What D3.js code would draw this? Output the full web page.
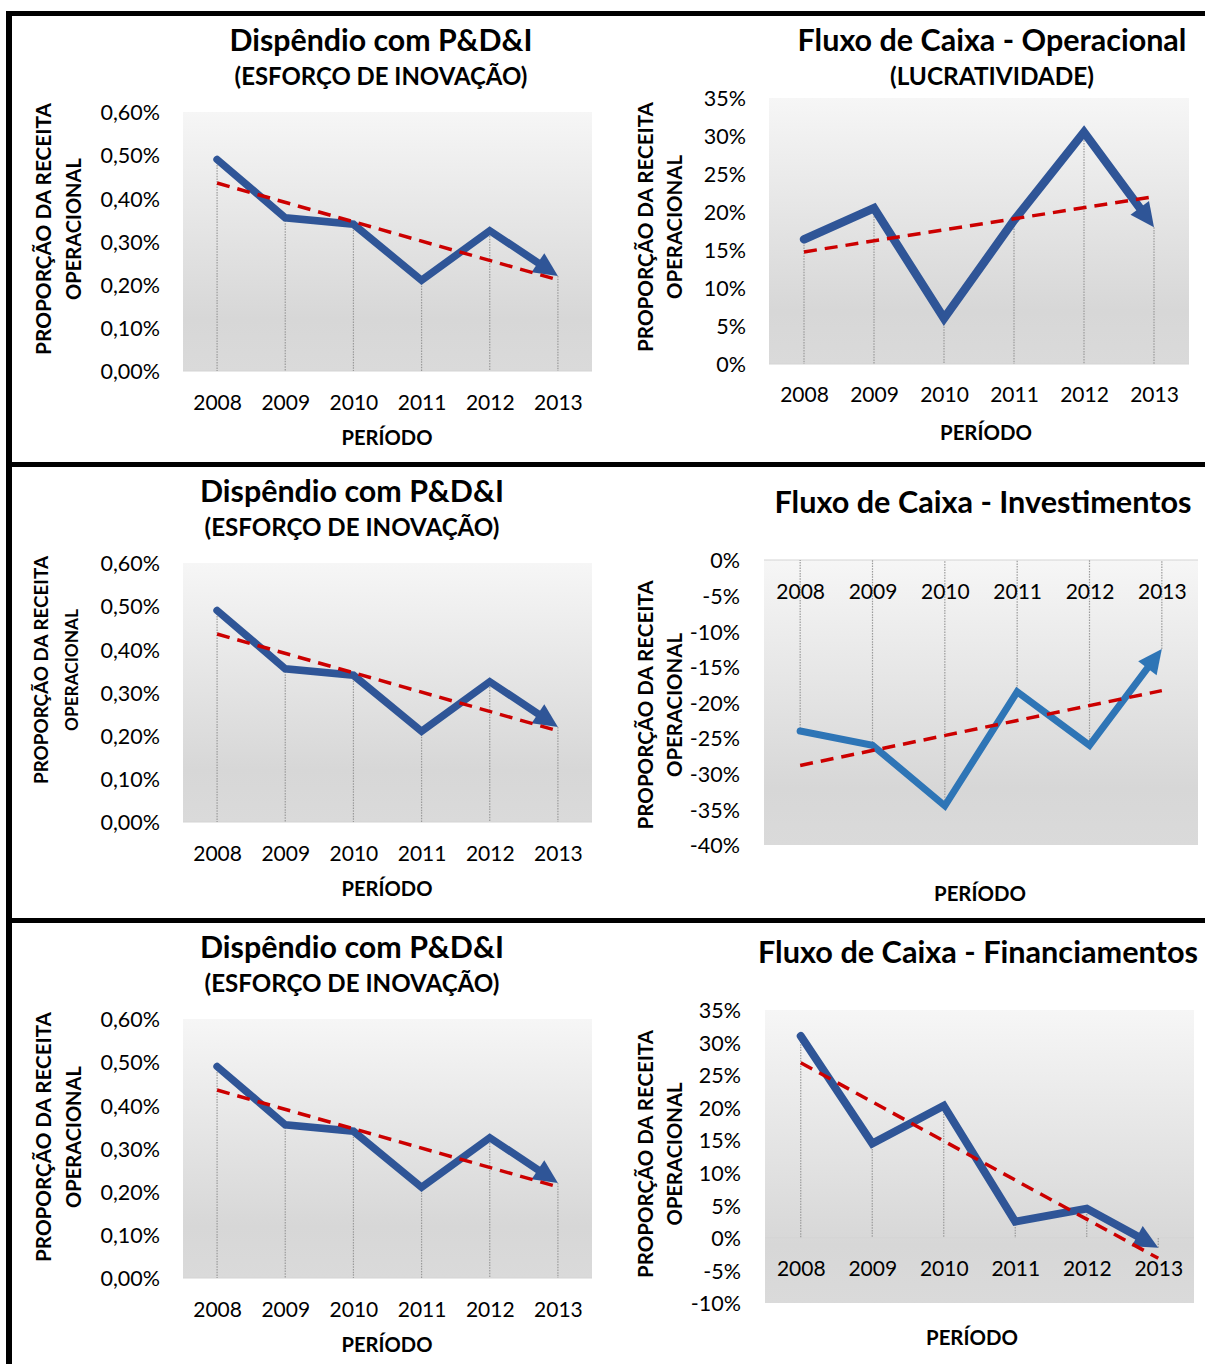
<!DOCTYPE html>
<html>
<head>
<meta charset="utf-8">
<script src="https://cdn.jsdelivr.net/npm/d3@7"></script>
<style>
  html, body { margin: 0; padding: 0; background: #fff; }
  svg { display: block; }
</style>
</head>
<body>
<svg id="chart" width="1205" height="1364"></svg>
<script>
// ---- Dados (proporção da receita operacional, em %) ----
const years = ["2008", "2009", "2010", "2011", "2012", "2013"];

const pdiValues            = [0.49, 0.355, 0.34, 0.21, 0.325, 0.22];
const operacionalValues    = [16.4, 20.5, 6.0, 18.9, 30.5, 18.0];
const investimentosValues  = [-24.0, -26.0, -34.5, -18.5, -26.0, -12.5];
const financiamentosValues = [31.0, 14.5, 20.3, 2.5, 4.5, -1.5];

const pdiTicks            = [0, 0.1, 0.2, 0.3, 0.4, 0.5, 0.6];
const operacionalTicks    = [0, 5, 10, 15, 20, 25, 30, 35];
const investimentosTicks  = [-40, -35, -30, -25, -20, -15, -10, -5, 0];
const financiamentosTicks = [-10, -5, 0, 5, 10, 15, 20, 25, 30, 35];

const titlePdi            = "Dispêndio com P&D&I";
const subtitlePdi         = "(ESFORÇO DE INOVAÇÃO)";
const titleOperacional    = "Fluxo de Caixa - Operacional";
const subtitleOperacional = "(LUCRATIVIDADE)";
const titleInvestimentos  = "Fluxo de Caixa - Investimentos";
const titleFinanciamentos = "Fluxo de Caixa - Financiamentos";
const yTitleLines         = ["PROPORÇÃO DA RECEITA", "OPERACIONAL"];
const xTitle              = "PERÍODO";

// ---- Formatação pt-BR ----
const ptBR = d3.formatLocale({ decimal: ",", thousands: ".", grouping: [3], currency: ["R$", ""], minus: "-" });
const fmt2 = v => ptBR.format(".2f")(v) + "%";
const fmt0 = v => ptBR.format(".0f")(v) + "%";

// ---- Estilo ----
const FONT = "Lato, 'Open Sans', 'DejaVu Sans', sans-serif";
const DARK_BLUE = "#2f5597";
const MID_BLUE = "#2e75b6";
const TREND_RED = "#cc0000";

const svg = d3.select("#chart");
svg.append("rect").attr("width", 1205).attr("height", 1364).attr("fill", "#fff");

const defs = svg.append("defs");
const grad = defs.append("linearGradient").attr("id", "plotBg")
  .attr("x1", 0).attr("y1", 0).attr("x2", 0).attr("y2", 1);
grad.append("stop").attr("offset", "0%").attr("stop-color", "#f6f6f6");
grad.append("stop").attr("offset", "80%").attr("stop-color", "#d7d7d7");
grad.append("stop").attr("offset", "100%").attr("stop-color", "#dadada");

// Ajusta o tamanho da fonte para o texto ocupar a largura indicada
function fitWidth(sel, target) {
  const w = sel.node().getComputedTextLength();
  const fs = parseFloat(sel.attr("font-size"));
  if (w > 0) sel.attr("font-size", (fs * target / w).toFixed(2));
  return sel;
}

// Layout de cada gráfico
const panels = [
  { title: titlePdi, subtitle: subtitlePdi, values: pdiValues, ticks: pdiTicks, fmt: fmt2,
    color: DARK_BLUE, lineW: 7.5,
    titleX: 381, titleY: 51, titleW: 303, subY: 85, subW: 293,
    plot: { x0: 183, x1: 592, y0: 112, y1: 371 }, tickRight: 160,
    yearY: 410, xt: { x: 387, y: 445, w: 91 },
    yt: { x1: 51, x2: 81, cy: 229, w1: 252, w2: 142 } },
  { title: titlePdi, subtitle: subtitlePdi, values: pdiValues, ticks: pdiTicks, fmt: fmt2,
    color: DARK_BLUE, lineW: 7.5,
    titleX: 352, titleY: 502, titleW: 304, subY: 536, subW: 295,
    plot: { x0: 183, x1: 592, y0: 563, y1: 822 }, tickRight: 160,
    yearY: 861, xt: { x: 387, y: 896, w: 91 },
    yt: { x1: 48, x2: 78, cy: 670, w1: 228, w2: 122 } },
  { title: titlePdi, subtitle: subtitlePdi, values: pdiValues, ticks: pdiTicks, fmt: fmt2,
    color: DARK_BLUE, lineW: 7.5,
    titleX: 352, titleY: 958, titleW: 304, subY: 992, subW: 295,
    plot: { x0: 183, x1: 592, y0: 1019, y1: 1278 }, tickRight: 160,
    yearY: 1317, xt: { x: 387, y: 1352, w: 91 },
    yt: { x1: 51, x2: 81, cy: 1137, w1: 250, w2: 142 } },
  { title: titleOperacional, subtitle: subtitleOperacional, values: operacionalValues,
    ticks: operacionalTicks, fmt: fmt0, color: DARK_BLUE, lineW: 8.5,
    titleX: 992, titleY: 51, titleW: 389, subY: 85, subW: 204,
    plot: { x0: 769, x1: 1189, y0: 98, y1: 364 }, tickRight: 746,
    yearY: 402, xt: { x: 986, y: 440, w: 92 },
    yt: { x1: 653, x2: 682, cy: 227, w1: 250, w2: 144 } },
  { title: titleInvestimentos, subtitle: null, values: investimentosValues,
    ticks: investimentosTicks, fmt: fmt0, color: MID_BLUE, lineW: 7,
    titleX: 983, titleY: 513, titleW: 417,
    plot: { x0: 764, x1: 1198, y0: 560, y1: 845 }, tickRight: 740,
    yearY: 599, xt: { x: 980, y: 901, w: 92 },
    yt: { x1: 653, x2: 682, cy: 705, w1: 249, w2: 144 } },
  { title: titleFinanciamentos, subtitle: null, values: financiamentosValues,
    ticks: financiamentosTicks, fmt: fmt0, color: DARK_BLUE, lineW: 8,
    titleX: 978, titleY: 963, titleW: 440,
    plot: { x0: 765, x1: 1194, y0: 1010, y1: 1303 }, tickRight: 741,
    yearY: 1276, xt: { x: 972, y: 1345, w: 92 },
    yt: { x1: 653, x2: 682, cy: 1154, w1: 248, w2: 143 } }
];

function drawPanel(p) {
  const g = svg.append("g");
  const { x0, x1, y0, y1 } = p.plot;

  const x = d3.scalePoint().domain(years).range([x0, x1]).padding(0.5);
  const y = d3.scaleLinear().domain(d3.extent(p.ticks)).range([y1, y0]);

  // área de plotagem
  g.append("rect").attr("x", x0).attr("y", y0)
    .attr("width", x1 - x0).attr("height", y1 - y0)
    .attr("fill", "url(#plotBg)");

  // linha do eixo de categorias (em 0%)
  g.append("line").attr("x1", x0).attr("x2", x1)
    .attr("y1", y(0)).attr("y2", y(0))
    .attr("stroke", "#d4d4d4").attr("stroke-width", 1);

  // linhas de projeção até o eixo
  g.append("g").selectAll("line").data(p.values).join("line")
    .attr("x1", (d, i) => x(years[i])).attr("x2", (d, i) => x(years[i]))
    .attr("y1", d => y(d)).attr("y2", y(0))
    .attr("stroke", "#9a9a9a").attr("stroke-width", 1.2)
    .attr("stroke-dasharray", "1.5 1.2");

  // eixo Y
  const yAxis = d3.axisLeft(y).tickValues(p.ticks).tickSize(0)
    .tickPadding(x0 - p.tickRight).tickFormat(p.fmt);
  const ya = g.append("g").attr("transform", `translate(${x0},0)`).call(yAxis);
  ya.select(".domain").remove();
  ya.selectAll("text").attr("font-family", FONT).attr("font-size", 21.5)
    .attr("fill", "#000").attr("dy", "0.36em");

  // eixo X (rótulos dos anos)
  const xAxis = d3.axisBottom(x).tickSize(0);
  const xa = g.append("g").attr("transform", `translate(0,${y(0)})`).call(xAxis);
  xa.select(".domain").remove();
  xa.selectAll("text").attr("font-family", FONT).attr("font-size", 21)
    .attr("fill", "#000").attr("y", p.yearY - y(0)).attr("dy", 0);

  // série com seta no final
  const pts = p.values.map((v, i) => [x(years[i]), y(v)]);
  const n = pts.length;
  const tip = pts[n - 1], prev = pts[n - 2];
  const ang = Math.atan2(tip[1] - prev[1], tip[0] - prev[0]);
  const headL = 24, headW = 11.5;
  const cut = headL * 0.75;
  const linePts = pts.slice(0, n - 1).concat([[tip[0] - cut * Math.cos(ang), tip[1] - cut * Math.sin(ang)]]);
  g.append("path").attr("d", d3.line()(linePts))
    .attr("fill", "none").attr("stroke", p.color).attr("stroke-width", p.lineW)
    .attr("stroke-linejoin", "miter").attr("stroke-linecap", "round");
  const bx = tip[0] - headL * Math.cos(ang), by = tip[1] - headL * Math.sin(ang);
  const nx = -Math.sin(ang), ny = Math.cos(ang);
  g.append("path")
    .attr("d", d3.line()([tip, [bx + nx * headW, by + ny * headW], [bx - nx * headW, by - ny * headW]]) + "Z")
    .attr("fill", p.color);

  // linha de tendência linear (mínimos quadrados)
  const idx = d3.range(n);
  const mx = d3.mean(idx), my = d3.mean(p.values);
  const slope = d3.sum(idx, i => (i - mx) * (p.values[i] - my)) / d3.sum(idx, i => (i - mx) ** 2);
  const icpt = my - slope * mx;
  g.append("line")
    .attr("x1", x(years[0])).attr("y1", y(icpt))
    .attr("x2", x(years[n - 1])).attr("y2", y(icpt + slope * (n - 1)))
    .attr("stroke", TREND_RED).attr("stroke-width", 3.5)
    .attr("stroke-dasharray", "13 8");

  // títulos
  const t = g.append("text").attr("x", p.titleX).attr("y", p.titleY)
    .attr("text-anchor", "middle").attr("font-family", FONT).attr("font-weight", 700)
    .attr("font-size", 27).attr("fill", "#000").text(p.title);
  fitWidth(t, p.titleW);
  if (p.subtitle) {
    const s = g.append("text").attr("x", p.titleX).attr("y", p.subY)
      .attr("text-anchor", "middle").attr("font-family", FONT).attr("font-weight", 700)
      .attr("font-size", 22).attr("fill", "#000").text(p.subtitle);
    fitWidth(s, p.subW);
  }

  // título do eixo X
  const xt = g.append("text").attr("x", p.xt.x).attr("y", p.xt.y)
    .attr("text-anchor", "middle").attr("font-family", FONT).attr("font-weight", 700)
    .attr("font-size", 19).attr("fill", "#000").text(xTitle);
  fitWidth(xt, p.xt.w);

  // título do eixo Y (duas linhas)
  [[p.yt.x1, p.yt.w1], [p.yt.x2, p.yt.w2]].forEach(([bx0, w], k) => {
    const yt = g.append("text")
      .attr("transform", `translate(${bx0},${p.yt.cy}) rotate(-90)`)
      .attr("text-anchor", "middle").attr("font-family", FONT).attr("font-weight", 700)
      .attr("font-size", 21).attr("fill", "#000").text(yTitleLines[k]);
    fitWidth(yt, w);
  });
}

panels.forEach(drawPanel);

// moldura
const frame = svg.append("g").attr("fill", "#000");
frame.append("rect").attr("x", 6).attr("y", 11).attr("width", 1199).attr("height", 5);
frame.append("rect").attr("x", 6).attr("y", 11).attr("width", 6).attr("height", 1353);
frame.append("rect").attr("x", 6).attr("y", 462).attr("width", 1199).attr("height", 5);
frame.append("rect").attr("x", 6).attr("y", 918).attr("width", 1199).attr("height", 5);
</script>
</body>
</html>
